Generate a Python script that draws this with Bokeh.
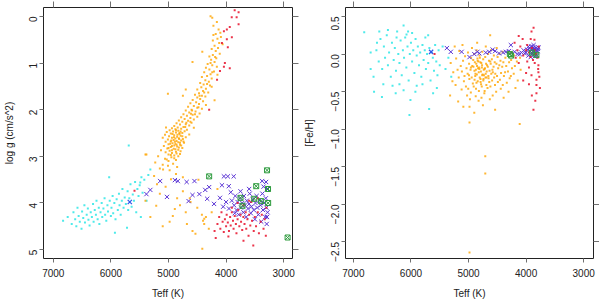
import math
from bokeh.plotting import figure
from bokeh.models import Range1d, LinearAxis, FixedTicker
from bokeh.layouts import row
from bokeh.embed import file_html
from bokeh.resources import INLINE

# ---------------- data ----------------
x_ticks = [7000, 6000, 5000, 4000, 3000]
logg_ticks = [0, 1, 2, 3, 4, 5]
feh_ticks = [0.5, 0.0, -0.5, -1.0, -1.5, -2.0, -2.5]
feh_tick_labels = ["0.5", "0.0", "\u22120.5", "\u22121.0", "\u22121.5", "\u22122.0", "\u22122.5"]

# left panel: (Teff, log g)
orange_L = [
    (4270,0.00),(4240,0.03),(4160,0.12),(4220,0.20),(4130,0.28),(4100,0.35),
    (4180,0.38),(4090,0.44),(4150,0.48),(4230,0.52),(4120,0.57),(4060,0.60),
    (4200,0.63),(4140,0.68),(4250,0.70),(4180,0.74),(4413,0.76),(4110,0.80),(4230,0.83),(4290,0.86),
    (4170,0.90),(4260,0.93),(4583,0.98),(4200,0.98),
    (4320,1.02),(4240,1.05),(4160,1.08),(4350,1.10),(4290,1.14),(4210,1.18),(4380,1.20),(4270,1.24),
    (4330,1.28),(4420,1.30),(4250,1.33),(4360,1.37),(4300,1.40),(4450,1.43),(4390,1.46),(4280,1.48),
    (4430,1.52),(4350,1.55),(4500,1.57),(4400,1.60),(4310,1.63),(4470,1.65),(4540,1.68),(4420,1.70),
    (4360,1.72),(4500,1.74),(4750,1.70),(4450,1.77),(4580,1.79),(4400,1.82),(4520,1.84),(4620,1.86),
    (4470,1.88),(4350,1.90),(4560,1.92),(4660,1.94),(4500,1.96),(4420,1.98),
    (4600,2.00),(4700,2.02),(4530,2.04),(4640,2.06),(4460,2.08),(4740,2.10),(4580,2.11),(4680,2.13),
    (4500,2.15),(4780,2.16),(4620,2.18),(4720,2.20),(4560,2.21),(4820,2.23),(4660,2.24),(4760,2.26),
    (4600,2.28),(4860,2.29),(4700,2.31),(4800,2.32),(4640,2.34),(4900,2.35),(4740,2.37),(4840,2.38),(4560,2.39),
    (4940,2.40),(4780,2.41),(4880,2.42),(4680,2.43),(4980,2.44),(4830,2.45),(4720,2.46),(4920,2.47),
    (5030,2.48),(4870,2.49),(4760,2.50),(4960,2.51),(4810,2.52),(4640,2.53),(5060,2.54),(4900,2.55),
    (4790,2.56),(4990,2.57),(4850,2.58),(4700,2.59),(4940,2.60),(5100,2.60),(4820,2.61),(4880,2.62),
    (4750,2.63),(5010,2.64),(4910,2.65),(4780,2.66),(4860,2.67),(4960,2.68),(5050,2.69),(4830,2.70),
    (4730,2.71),(4930,2.72),(4880,2.73),(5000,2.74),(4800,2.75),(4900,2.77),(5080,2.78),(4850,2.79),
    (4960,2.80),(4760,2.82),(5020,2.83),(4910,2.84),(4830,2.86),(5130,2.87),(4980,2.88),(4870,2.90),
    (5050,2.91),(4940,2.93),(4800,2.95),(5000,2.96),(4900,2.98),(5180,3.00),
    (4950,3.02),(5060,3.05),(4870,3.08),(5383,2.96),(5000,3.10),(5230,3.13),(4920,3.16),(5100,3.18),
    (5009,3.20),(4850,3.23),(5150,3.26),(5094,3.28),(4980,3.30),(4870,3.38),(4957,3.49),(5250,3.42),(4750,3.45),
    (4250,1.51),(4200,1.80),(4150,1.25),(5010,1.66),(4700,1.57),(5043,2.38),(5400,2.96),
    (4870,2.44),(4790,2.47),(4930,2.52),(4845,2.54),(4760,2.57),(4905,2.59),(4815,2.63),(4950,2.66),
    (4740,2.68),(4890,2.69),(4800,2.71),(4970,2.73),(4860,2.75),(4780,2.77),(4940,2.78),(4820,2.81),
    (5000,2.82),(4880,2.85),(4940,2.87),(4790,2.89),(4860,2.94),(4960,2.97),(4830,3.00),(4900,3.04),
    (5030,3.07),(4810,2.50),(4710,2.37),(4620,2.26),(4690,2.28),(4540,2.10),(4610,2.09),(4480,1.95),
    (4590,2.02),(4380,1.63),(4460,1.70),(4330,1.45),(4240,1.20),(4270,1.00),(4190,0.87),(4220,0.40),
    (4630,3.90),(4925,4.28),(4400,4.38),(4583,4.60),(4413,4.98),(5315,4.30),(5213,4.06),(4890,4.13),
    (4379,4.34),(4617,3.98),(4532,4.66),(4350,4.30),(4420,4.25),(4380,4.45),(5050,3.65),(4750,3.75),
    (5150,3.80),(4800,4.05),(4980,4.40),(5100,4.50),(4700,4.20),(4500,4.10),(4300,4.55),(4250,4.20),
    (4150,3.70),(5400,3.95),(4680,4.45),(5200,3.60),(4850,3.90),(4480,3.50),
]
cyan_L = [
    (6830,4.38),(6750,4.30),(6680,4.45),(6650,4.20),(6620,4.35),(6600,4.50),(6580,4.10),(6560,4.28),
    (6540,4.40),(6510,4.55),(6500,4.18),(6480,4.32),(6460,4.05),(6450,4.42),(6420,4.25),(6400,4.12),
    (6390,4.36),(6370,4.48),(6350,4.20),(6330,4.30),(6310,4.02),(6300,4.40),(6280,4.15),(6260,4.25),
    (6250,3.95),(6230,4.35),(6210,4.10),(6200,4.45),(6180,4.20),(6160,4.00),(6150,4.30),(6130,4.12),
    (6110,3.90),(6100,4.25),(6080,4.38),(6060,4.05),(6050,4.18),(6030,3.45),(6020,3.95),(6000,4.28),
    (5990,4.10),(5970,3.85),(5960,4.22),(5940,4.00),(5930,4.64),(5920,4.35),(5900,3.92),(5880,4.15),
    (5860,3.80),(5850,4.05),(5830,4.25),(5810,3.95),(5800,3.70),(5780,4.10),(5760,3.88),(5740,4.02),
    (5720,4.53),(5710,3.75),(5700,4.15),(5690,2.77),(5680,3.90),(5660,3.60),(5640,4.08),(5620,3.82),
    (5600,3.95),(5580,3.55),(5560,4.20),(5540,3.70),(5520,3.85),(5500,3.62),(5480,4.30),(5470,3.45),
    (5450,3.78),(5420,3.50),(5380,3.95),(5350,3.40),(5315,3.28),(5490,3.56),
]
red_L = [
    (3851,-0.13),(3783,-0.09),(3902,0.02),(3817,0.02),(3783,0.17),(3936,0.23),(3987,0.28),(4038,0.32),
    (3987,0.49),(3970,0.66),(4072,0.57),(4038,1.08),(4106,1.17),(3936,1.11),(4157,1.36),(4294,2.00),
    (4021,1.00),(3900,0.45),
    (4150,4.45),(4120,4.30),(4100,4.55),(4080,4.20),(4060,4.40),(4040,4.62),(4020,4.35),(4000,4.50),
    (3990,4.25),(3970,4.42),(3950,4.60),(3930,4.30),(3920,4.48),(3900,4.20),(3880,4.38),(3870,4.55),
    (3850,4.28),(3830,4.45),(3820,4.65),(3800,4.35),(3790,4.15),(3770,4.50),(3750,4.25),(3740,4.40),
    (3720,4.58),(3700,4.30),(3698,4.81),(3680,4.45),(3660,4.20),(3650,4.55),(3630,4.35),(3610,4.70),
    (3600,4.25),(3580,4.48),(3562,3.98),(3550,4.38),(3528,4.91),(3520,4.60),(3500,4.30),(3480,4.50),
    (3450,4.20),(3430,4.65),(3400,4.40),(3380,4.25),(3350,4.55),(3330,4.35),(3310,4.70),(3300,4.10),
    (3700,4.05),(3600,3.95),(3450,3.90),(3800,4.00),(3900,4.10),(4200,4.60),(4180,4.75),(3960,4.72),
    (5590,3.74),
]
purple_L = [
    (5383,3.81),(5315,3.72),(5145,3.53),(5026,3.87),(4889,3.51),(4838,3.53),(4685,3.55),(4549,3.53),
    (4583,3.83),(4651,3.96),(4464,3.81),(4362,3.72),(4294,3.66),(4328,3.91),(4209,4.02),(4106,3.89),
    (4072,3.62),(4038,3.43),(3970,3.43),(3868,3.43),(3953,3.64),(3919,3.77),(3374,3.53),(3306,3.55),
    (3900,3.95),(3860,4.05),(3840,3.85),(3820,4.15),(3800,3.98),(3780,4.25),(3760,3.90),(3740,4.10),
    (3720,4.00),(3700,4.20),(3690,3.85),(3670,4.05),(3650,4.30),(3640,3.95),(3620,4.12),(3600,4.02),
    (3590,3.80),(3570,4.22),(3560,4.08),(3540,3.92),(3520,4.15),(3500,4.35),(3490,4.00),(3470,3.85),
    (3460,4.10),(3440,4.25),(3420,3.95),(3400,4.05),(3390,4.40),(3370,3.80),(3360,4.15),(3340,4.00),
    (3320,4.30),(3310,3.90),(3300,4.10),(3295,4.45),(3289,4.30),(3280,4.20),(3290,3.70),(3350,3.65),
    (3600,3.70),(3750,3.75),(4000,3.98),(4050,4.08),(3850,4.22),(3950,4.12),
]
blue_L = [(5672,3.98)]
green_L = [(4294,3.43),(3289,3.30),(2932,4.74),(3272,3.70),(3477,3.64),(3749,3.89),(3715,4.06),
           (3511,3.91),(3391,3.96),(3270,4.00)]

# right panel: (Teff, [Fe/H])
cyan_R = [
    (6812,0.29),(6128,0.38),(6077,0.26),(6590,0.15),(5701,0.25),(6641,-0.50),(6504,-0.57),(6265,-0.52),
    (6128,-0.48),(5923,-0.50),(6009,-0.61),(5615,-0.52),(5684,-0.73),(6026,-0.81),
    (6600,0.05),(6560,-0.10),(6530,0.20),(6500,-0.20),(6470,0.10),(6450,-0.05),(6420,0.25),(6400,-0.15),
    (6380,0.02),(6350,-0.30),(6330,0.15),(6300,-0.08),(6280,0.08),(6260,-0.22),(6240,0.30),(6220,0.00),
    (6200,-0.12),(6180,0.18),(6160,-0.28),(6140,0.05),(6120,-0.05),(6100,0.22),(6080,-0.18),(6060,0.10),
    (6040,-0.35),(6020,0.00),(6000,0.15),(5980,-0.10),(5960,0.05),(5940,-0.25),(5920,0.20),(5900,-0.02),
    (5880,0.10),(5860,-0.15),(5840,0.02),(5820,-0.30),(5800,0.12),(5780,-0.08),(5760,0.05),(5740,-0.20),
    (5720,0.00),(5700,-0.12),(5680,0.08),(5660,-0.35),(5640,0.02),(5620,-0.05),(5600,-0.22),(5580,0.12),
    (5560,-0.10),(5540,-0.28),(5520,0.05),(5500,-0.15),(6650,-0.30),(6700,0.02),(6550,0.30),(6480,-0.40),
    (6320,-0.42),(6200,-0.40),(5900,-0.42),(5800,-0.40),(5750,0.22),(6050,0.30),(6400,0.32),(6250,0.22),
    (5980,0.28),(5400,-0.20),(5350,-0.05),(5450,0.10),(5300,-0.30),(5550,-0.45),(6700,-0.20),
]
orange_R = [
    (5310,-0.12),(5280,-0.36),(5320,-0.55),(5240,0.10),(5265,-0.24),
    (5215,-0.06),(5190,-0.21),(5225,-0.41),(5180,-0.63),
    (5160,0.04),(5135,-0.16),(5170,-0.31),(5120,-0.47),
    (5095,-0.09),(5115,-0.23),(5080,-0.36),(5105,0.12),(5090,-0.70),
    (5060,-0.03),(5035,-0.19),(5070,-0.29),(5045,-0.43),(5025,-0.55),
    (5010,0.02),(4990,-0.13),(5015,-0.26),(4985,-0.33),(5005,-0.46),(4975,-0.60),(4983,-0.70),(4983,-0.91),
    (4955,-0.05),(4935,-0.16),(4965,-0.21),(4945,-0.31),(4925,-0.39),(4960,-0.51),(4940,0.08),
    (4905,0.00),(4890,-0.11),(4915,-0.17),(4880,-0.26),(4895,-0.34),(4910,-0.43),(4875,-0.56),(4900,-0.78),
    (4860,0.05),(4845,-0.06),(4865,-0.13),(4835,-0.19),(4855,-0.27),(4840,-0.36),(4870,-0.46),(4825,-0.62),
    (4850,0.15),
    (4810,-0.02),(4795,-0.11),(4815,-0.18),(4785,-0.23),(4805,-0.31),(4790,-0.37),(4820,-0.49),(4775,-0.58),
    (4760,0.03),(4745,-0.07),(4765,-0.15),(4735,-0.21),(4755,-0.27),(4740,-0.33),(4770,-0.43),(4725,-0.52),
    (4750,-0.68),
    (4710,-0.04),(4695,-0.13),(4715,-0.19),(4685,-0.23),(4705,-0.31),(4690,-0.41),(4720,-0.49),(4700,0.10),
    (4709,-1.36),(4709,-1.59),
    (4660,0.00),(4645,-0.09),(4665,-0.17),(4635,-0.22),(4655,-0.29),(4640,-0.37),(4670,-0.45),(4630,-0.60),
    (4624,0.25),
    (4610,0.05),(4595,-0.07),(4615,-0.13),(4585,-0.21),(4605,-0.26),(4590,-0.35),(4620,-0.43),(4580,-0.55),
    (4560,-0.02),(4545,-0.11),(4565,-0.17),(4535,-0.26),(4555,-0.31),(4540,-0.41),(4538,-0.74),
    (4510,0.08),(4495,-0.04),(4515,-0.13),(4485,-0.19),(4505,-0.29),(4490,-0.37),(4520,-0.50),
    (4460,0.00),(4445,-0.09),(4465,-0.15),(4435,-0.25),(4455,-0.34),(4440,-0.46),
    (4410,0.03),(4395,-0.11),(4415,-0.17),(4385,-0.29),(4405,-0.41),(4390,-0.58),
    (4360,-0.05),(4345,-0.16),(4365,-0.24),(4335,-0.38),
    (4310,0.02),(4295,-0.11),(4315,-0.23),(4285,-0.32),(4305,-0.50),
    (4260,-0.08),(4245,-0.19),(4265,-0.29),
    (4210,-0.02),(4195,-0.16),(4215,-0.26),(4185,-0.45),
    (4160,-0.10),(4145,-0.35),(4111,-0.93),(4105,-0.05),(4095,-0.21),
    (4983,-2.64),
    (4852,-0.16),(4822,-0.24),(4778,-0.12),(4762,-0.28),(4883,-0.29),(4722,-0.20),(4678,-0.15),
    (4803,-0.05),(4897,-0.22),(4743,-0.35),(4862,-0.38),(4918,-0.08),(4702,-0.26),(4652,-0.32),
    (4782,-0.40),(4828,-0.10),(4958,-0.18),(4622,-0.10),(4578,-0.24),(4992,-0.28),
    (4812,-0.20),(4768,-0.18),(4872,-0.21),(4732,-0.28),(4842,-0.09),(4792,-0.33),(4688,-0.31),
]
red_R = [
    (3906,0.30),(4128,0.24),(3855,0.19),(3786,-0.15),(3786,-0.24),(3820,-0.34),(3820,-0.41),(3820,-0.52),
    (3872,-0.74),(4128,-0.12),(3923,-0.04),(3906,-0.28),
    (4200,0.15),(4150,0.05),(4100,0.10),(4050,-0.02),(4000,0.05),(3980,0.12),(3950,0.02),(3900,0.08),
    (3880,-0.08),(3850,0.05),(3830,0.00),(3800,-0.05),(3780,0.10),(3770,-0.30),(3760,-0.45),(3790,-0.20),
    (3950,-0.18),(4000,-0.25),(4050,-0.35),(3980,-0.10),(3920,0.20),(4060,0.20),(4180,-0.05),(3850,-0.12),
    (3840,-0.62),(3900,-0.55),(3950,-0.40),(4250,0.02),(5590,0.00),(3870,0.35),
]
purple_R = [
    (5376,0.08),(5308,0.03),(5120,0.03),(4983,-0.04),(4846,0.03),(4812,0.01),(4641,0.03),(4538,0.04),
    (4470,0.01),(4350,0.03),(4265,0.12),(4111,0.00),(4043,0.05),(4026,0.01),(3940,0.08),(3872,0.09),
    (3820,0.05),(3786,0.09),(3855,-0.01),
    (4000,0.02),(3980,0.06),(3960,-0.02),(3930,0.04),(3910,0.10),(3900,0.00),(3890,0.06),(3880,0.03),
    (3860,0.07),(3850,-0.03),(3840,0.02),(3830,0.08),(3810,-0.02),(3800,0.04),(3795,0.07),(4080,0.02),
    (4150,0.00),(4200,0.03),(4300,0.04),(4400,0.02),(4580,0.06),(4700,0.02),(4900,0.00),(3920,-0.04),
    (3870,0.12),(3960,0.10),
]
blue_R = [(5650,0.03)]
green_R = [(4282,0.00),(3820,-0.01),(4260,-0.02),(3900,0.02)]

# ---------------- styling ----------------
FONT = "Liberation Sans"
C_ORANGE = "#FFA500"
C_CYAN = "#22E5E5"
C_RED = "#E8102A"
C_PURPLE = "#5B35D5"
C_BLUE = "#2F55E8"
C_GREEN = "#2E9B3E"
PT = 2.0


def xs(pts):
    return [p[0] for p in pts]


def ys(pts):
    return [p[1] for p in pts]


def style_axis(ax, ticks, labels=None, show_labels=True, vertical=False, tick_out=4):
    ax.ticker = FixedTicker(ticks=ticks)
    ax.axis_line_color = None
    ax.major_tick_line_color = "#707070"
    ax.major_tick_out = tick_out
    ax.major_tick_in = 0
    ax.minor_tick_line_color = None
    ax.major_label_text_font = FONT
    ax.major_label_text_font_size = "10px"
    ax.major_label_text_color = "#222222"
    ax.axis_label_text_font = FONT
    ax.axis_label_text_font_size = "10px"
    ax.axis_label_text_font_style = "normal"
    ax.axis_label_text_color = "#222222"
    if show_labels:
        if labels is not None:
            ax.major_label_overrides = {t: l for t, l in zip(ticks, labels)}
        ax.major_label_standoff = 6
        if vertical:
            ax.major_label_orientation = math.pi / 2
    else:
        ax.major_label_overrides = {t: "" for t in ticks}
        ax.major_label_standoff = 0


def make_panel(width, xr, yr, yticks, ylabels, ylab, border_left, border_right, ylab_standoff):
    p = figure(width=width, height=301, x_range=Range1d(*xr), y_range=Range1d(*yr),
               output_backend="svg", toolbar_location=None,
               min_border_left=border_left, min_border_right=border_right,
               min_border_top=7, min_border_bottom=41)
    p.grid.visible = False
    p.outline_line_color = "#222222"
    p.outline_line_width = 1
    p.background_fill_color = "white"
    p.border_fill_color = "white"
    style_axis(p.xaxis[0], x_ticks)
    p.xaxis[0].axis_label = "Teff (K)"
    p.xaxis[0].axis_label_standoff = 8
    style_axis(p.yaxis[0], yticks, ylabels, vertical=True)
    p.yaxis[0].axis_label = ylab
    p.yaxis[0].axis_label_standoff = ylab_standoff
    top = LinearAxis()
    style_axis(top, x_ticks, show_labels=False, tick_out=6)
    p.add_layout(top, "above")
    right = LinearAxis()
    style_axis(right, yticks, show_labels=False, tick_out=6)
    p.add_layout(right, "right")
    return p


def draw(p, orange, cyan, red, purple, blue, green):
    p.scatter(xs(cyan), ys(cyan), marker="square", size=PT, fill_color=C_CYAN, fill_alpha=0.8, line_color=None)
    p.scatter(xs(orange), ys(orange), marker="square", size=PT, fill_color=C_ORANGE, fill_alpha=0.8, line_color=None)
    p.scatter(xs(purple), ys(purple), marker="x", size=6, line_color=C_PURPLE, line_width=1)
    p.scatter(xs(blue), ys(blue), marker="x", size=6, line_color=C_BLUE, line_width=1.2)
    p.scatter(xs(red), ys(red), marker="square", size=PT, fill_color=C_RED, fill_alpha=0.85, line_color=None)
    p.scatter(xs(green), ys(green), marker="square_x", size=5, fill_color=None,
              line_color=C_GREEN, line_width=1)


left = make_panel(300, (7170, 2847), (5.19, -0.19), logg_ticks, [str(t) for t in logg_ticks],
                  "log g (cm/s^2)", 38, 8, 8)
draw(left, orange_L, cyan_L, red_L, purple_L, blue_L, green_L)

right = make_panel(299, (7137, 2829), (-2.72, 0.62), feh_ticks, feh_tick_labels, "[Fe/H]", 41, 6, 10)
draw(right, orange_R, cyan_R, red_R, purple_R, blue_R, green_R)

layout = row(left, right)
open("out.html", "w").write(file_html(layout, INLINE))
